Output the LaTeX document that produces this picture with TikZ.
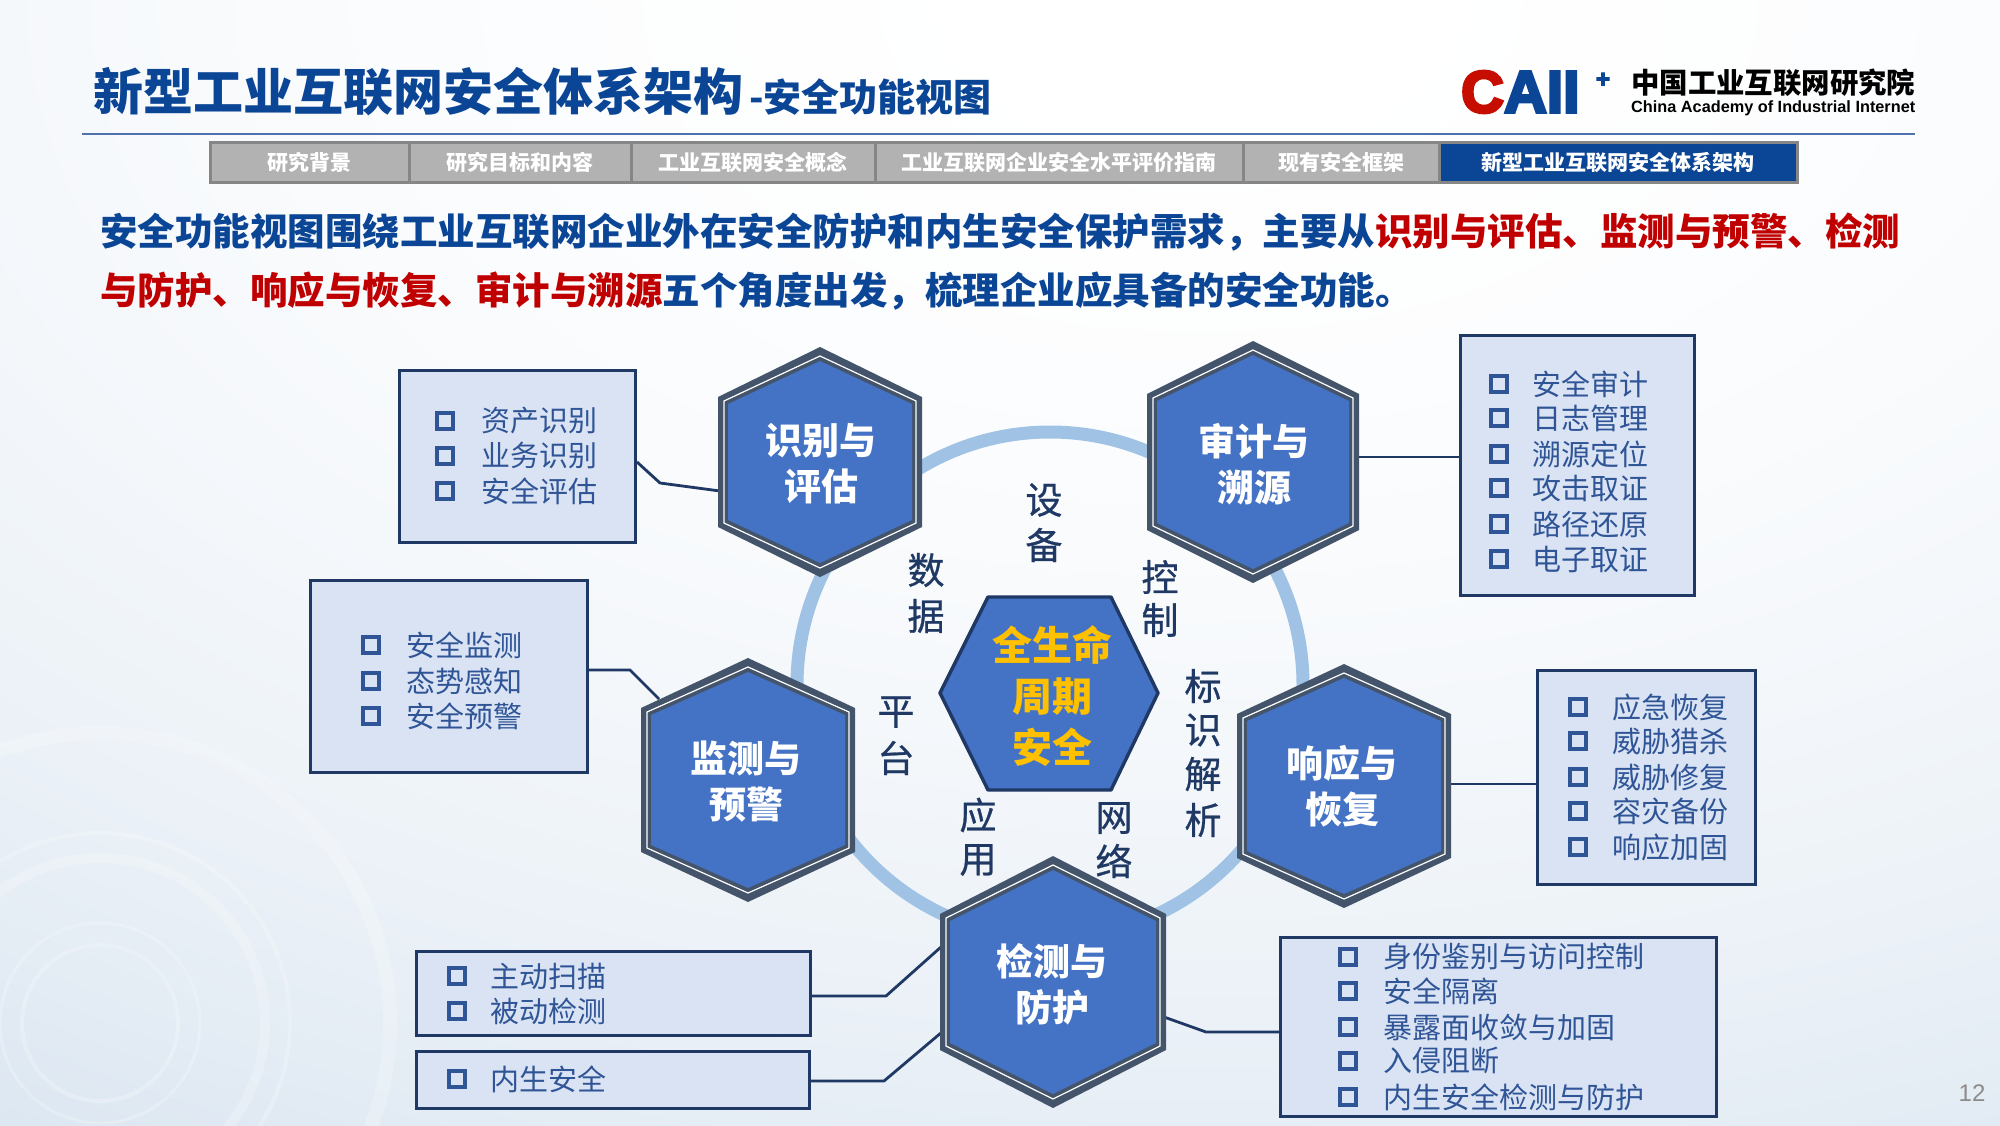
\documentclass[tikz,border=0pt]{standalone}
\usepackage{fontspec}
\usepackage{graphicx}
\setmainfont{Liberation Sans}
\newfontfamily\cjk{Noto Sans CJK SC}
\newfontfamily\cjkm[FakeBold=0.7]{Noto Sans CJK SC}
\newfontfamily\logofont[FakeBold=5]{Liberation Sans Bold}
\usetikzlibrary{calc}
\definecolor{navy}{HTML}{0B4595}
\definecolor{crim}{HTML}{C00000}
\definecolor{hexfill}{HTML}{4472C4}
\definecolor{hexedge}{HTML}{44546A}
\definecolor{ink}{HTML}{1F3864}
\definecolor{boxfill}{HTML}{DAE3F3}
\definecolor{itemink}{HTML}{2F5597}
\definecolor{ringc}{HTML}{A0C3E5}
\definecolor{gold}{HTML}{FFC000}
\definecolor{rulec}{HTML}{4F72AE}
\pgfdeclarefunctionalshading{bgshade}{\pgfpoint{0bp}{0bp}}{\pgfpoint{100bp}{100bp}}{}{
  75 sub 72 div dup mul exch 55 sub 68 div dup mul add
  dup 1 gt {pop 1} if
  dup 0.2 mul 1 exch sub exch dup 0.14 mul 1 exch sub exch 0.08 mul 1 exch sub
}
\newcommand{\fs}[1]{\fontsize{#1}{#1}\selectfont}
\tikzset{
  x=1pt,y=-1pt,
  boxnode/.style={draw=ink,line width=3pt,fill=boxfill,inner sep=0pt,anchor=north west},
  itemtext/.style={anchor=west,inner sep=0pt,text=itemink,font=\cjk\fs{29}},
  checkbox/.style={draw=itemink,line width=4pt,fill=none,minimum size=16.5pt,inner sep=0pt},
  hexlabel/.style={align=center,text=white,font=\cjk\bfseries\fs{37},inner sep=0pt},
  ringlabel/.style={inner sep=0pt,text=ink,font=\cjkm\fs{37}},
  centrelabel/.style={inner sep=0pt,text=gold,font=\cjk\bfseries\fs{40}},
  link/.style={draw=ink,line width=2.8pt,line join=round},
  navcell/.style={anchor=north west,inner sep=0pt,fill=#1,draw=gray!95,line width=2.6pt},
  navtext/.style={text=white,font=\cjk\bfseries\fs{21},inner sep=0pt},
}
% cx cy halfwidth halfheight shoulder
\newcommand{\hexa}[5]{%
  \fill[hexedge] (#1,#2-#4) -- (#1+#3,#2-#4+#5) -- (#1+#3,#2+#4-#5) -- (#1,#2+#4) -- (#1-#3,#2+#4-#5) -- (#1-#3,#2-#4+#5) -- cycle;
  \draw[white,line width=1.2pt] (#1,#2-#4+9) -- (#1+#3-6,#2-#4+#5+4) -- (#1+#3-6,#2+#4-#5-4) -- (#1,#2+#4-9) -- (#1-#3+6,#2+#4-#5-4) -- (#1-#3+6,#2-#4+#5+4) -- cycle;
  \fill[hexfill] (#1,#2-#4+14) -- (#1+#3-10,#2-#4+#5+7) -- (#1+#3-10,#2+#4-#5-7) -- (#1,#2+#4-14) -- (#1-#3+10,#2+#4-#5-7) -- (#1-#3+10,#2-#4+#5+7) -- cycle;
}
\begin{document}
\begin{tikzpicture}
\useasboundingbox (0,0) rectangle (2000,1125);
% background
\shade[shading=bgshade] (0,0) rectangle (2000,1125);
\foreach \r/\w in {78/4,100/3,165/10,190/4,290/14}{\draw[white,line width=\w pt,opacity=.22] (100,1023) circle (\r);}

% title
\node[anchor=west,inner sep=0pt,text=navy,font=\cjk\bfseries\fs{50}] (title) at (93,92) {新型工业互联网安全体系架构};
\node[anchor=west,inner sep=0pt,text=navy,font=\cjk\bfseries\fs{38}] (subtitle) at (749,97) {-安全功能视图};
\coordinate (ruleL) at (82,134); \coordinate (ruleR) at (1915,134);
\draw[color=rulec,line width=1.2pt] (ruleL) -- (ruleR);

% logo
\node[anchor=west,inner sep=0pt,text=crim!90!orange,font=\logofont\fs{59}] (logoC) at (1461,92) {C};
\node[anchor=west,inner sep=0pt,text=navy,font=\logofont\fs{59}] (logoA) at (1504,92) {AII};
\node[inner sep=0pt,text=navy,font=\logofont\fs{24}] (logoP) at (1603,80) {+};
\node[anchor=west,inner sep=0pt,text=black,font=\cjk\bfseries\fs{28.4}] (org) at (1631,83) {中国工业互联网研究院};
\node[anchor=west,inner sep=0pt,text=black] (orgen) at (1631,108) {\resizebox{284pt}{!}{\fs{18}\bfseries China Academy of Industrial Internet}};

% nav bar
\node[navcell=gray!60,minimum width=199pt,minimum height=40pt] (n1) at (209,141) {};
\node[navcell=gray!60,minimum width=222pt,minimum height=40pt] (n2) at (408,141) {};
\node[navcell=gray!60,minimum width=244pt,minimum height=40pt] (n3) at (630,141) {};
\node[navcell=gray!60,minimum width=368pt,minimum height=40pt] (n4) at (874,141) {};
\node[navcell=gray!60,minimum width=196pt,minimum height=40pt] (n5) at (1242,141) {};
\node[navcell=navy,minimum width=358pt,minimum height=40pt] (n6) at (1438,141) {};
\node[navtext] at (n1) {研究背景};
\node[navtext] at (n2) {研究目标和内容};
\node[navtext] at (n3) {工业互联网安全概念};
\node[navtext] at (n4) {工业互联网企业安全水平评价指南};
\node[navtext] at (n5) {现有安全框架};
\node[navtext] at (n6) {新型工业互联网安全体系架构};

% lead text
\node[anchor=west,inner sep=0pt,font=\cjk\bfseries\fs{37.5}] (lead1) at (100,232) {\textcolor{navy}{安全功能视图围绕工业互联网企业外在安全防护和内生安全保护需求，主要从}\textcolor{crim}{识别与评估、监测与预警、检测}};
\node[anchor=west,inner sep=0pt,font=\cjk\bfseries\fs{37.5}] (lead2) at (100,291) {\textcolor{crim}{与防护、响应与恢复、审计与溯源}\textcolor{navy}{五个角度出发，梳理企业应具备的安全功能。}};

% ring
\draw[ringc,line width=13pt] (1050,685) circle (253);

% connectors' hexagon ends
\coordinate (h1w) at (720,491);
\coordinate (h2e) at (1359,457);
\coordinate (h3w) at (659,699);
\coordinate (h4e) at (1450,784);
\coordinate (h5a) at (941,947);
\coordinate (h5b) at (942,1032);
\coordinate (h5c) at (1164,1017);

% boxes
\node[boxnode,minimum width=236pt,minimum height=172pt] (b1) at (398,369) {};
\node[boxnode,minimum width=234pt,minimum height=260pt] (b2) at (1459,334) {};
\node[boxnode,minimum width=277pt,minimum height=192pt] (b3) at (309,579) {};
\node[boxnode,minimum width=218pt,minimum height=214pt] (b4) at (1536,669) {};
\node[boxnode,minimum width=394pt,minimum height=84pt] (b5) at (415,950) {};
\node[boxnode,minimum width=393pt,minimum height=57pt] (b6) at (415,1050) {};
\node[boxnode,minimum width=436pt,minimum height=179pt] (b7) at (1279,936) {};

% links
\coordinate (s1) at (636,462); \coordinate (e1) at (660,483);
\coordinate (e3) at (630,670);
\coordinate (e5) at (886,996); \coordinate (e6) at (884,1081); \coordinate (e7) at (1206,1032);
\draw[link] (b1.east |- s1) -- (e1) -- (h1w);
\draw[link] (h2e) -- (h2e -| b2.west);
\draw[link] (b3.east |- e3) -- (e3) -- (h3w);
\draw[link] (h4e) -- (h4e -| b4.west);
\draw[link] (b5.east |- e5) -- (e5) -- (h5a);
\draw[link] (b6.east |- e6) -- (e6) -- (h5b);
\draw[link] (h5c) -- (e7) -- (e7 -| b7.west);

% hexagons
\hexa{820}{462}{102}{115}{50}
\hexa{1253}{462}{106}{121}{53}
\hexa{748}{780}{107}{122}{50}
\hexa{1344}{786}{107}{122}{50}
\hexa{1053}{982}{113}{126}{58}
\node[hexlabel] (h1) at (821,464) {识别与\\[9pt]评估};
\node[hexlabel] (h2) at (1254,464) {审计与\\[9pt]溯源};
\node[hexlabel] (h3) at (746,782) {监测与\\[9pt]预警};
\node[hexlabel] (h4) at (1342,786) {响应与\\[9pt]恢复};
\node[hexlabel] (h5) at (1052,984) {检测与\\[9pt]防护};

% centre
\draw[ink,line width=3.4pt,fill=hexfill,line join=round] (988,597) -- (1111,597) -- (1158,693) -- (1111,790) -- (988,790) -- (940,693) -- cycle;
\node[centrelabel] (c1) at (1052,645) {全生命};
\node[centrelabel] (c2) at (1052,697) {周期};
\node[centrelabel] (c3) at (1052,747) {安全};

% ring labels
\node[ringlabel] (r1) at (1044,500) {设};
\node[ringlabel] (r2) at (1044,545) {备};
\node[ringlabel] (r3) at (926,570) {数};
\node[ringlabel] (r4) at (926,616) {据};
\node[ringlabel] (r5) at (1160,577) {控};
\node[ringlabel] (r6) at (1160,620) {制};
\node[ringlabel] (r7) at (1203,686) {标};
\node[ringlabel] (r8) at (1203,730) {识};
\node[ringlabel] (r9) at (1203,774) {解};
\node[ringlabel] (r10) at (1203,820) {析};
\node[ringlabel] (r11) at (896,712) {平};
\node[ringlabel] (r12) at (896,758) {台};
\node[ringlabel] (r13) at (978,815) {应};
\node[ringlabel] (r14) at (978,860) {用};
\node[ringlabel] (r15) at (1114,818) {网};
\node[ringlabel] (r16) at (1114,861) {络};

% items: x of box, x of text, y, text
\foreach \cx/\tx/\yy/\tt in {
 445/481/421/资产识别, 445/481/456/业务识别, 445/481/491/安全评估,
 1499/1532/384/安全审计, 1499/1532/418/日志管理, 1499/1532/454/溯源定位, 1499/1532/488/攻击取证, 1499/1532/524/路径还原, 1499/1532/559/电子取证,
 371/406/645/安全监测, 371/406/681/态势感知, 371/406/716/安全预警,
 1578/1612/707/应急恢复, 1578/1612/741/威胁猎杀, 1578/1612/777/威胁修复, 1578/1612/811/容灾备份, 1578/1612/847/响应加固,
 457/490/976/主动扫描, 457/490/1011/被动检测,
 457/490/1079/内生安全,
 1348/1383/957/身份鉴别与访问控制, 1348/1383/991/安全隔离, 1348/1383/1027/暴露面收敛与加固, 1348/1383/1061/入侵阻断, 1348/1383/1097/内生安全检测与防护}{
  \node[checkbox] at (\cx,\yy) {};
  \node[itemtext] at (\tx,\yy) {\tt};
}

% page number
\node[inner sep=0pt,text=gray!90,font=\fs{24}] (pg) at (1972,1093) {12};
\end{tikzpicture}
\end{document}
